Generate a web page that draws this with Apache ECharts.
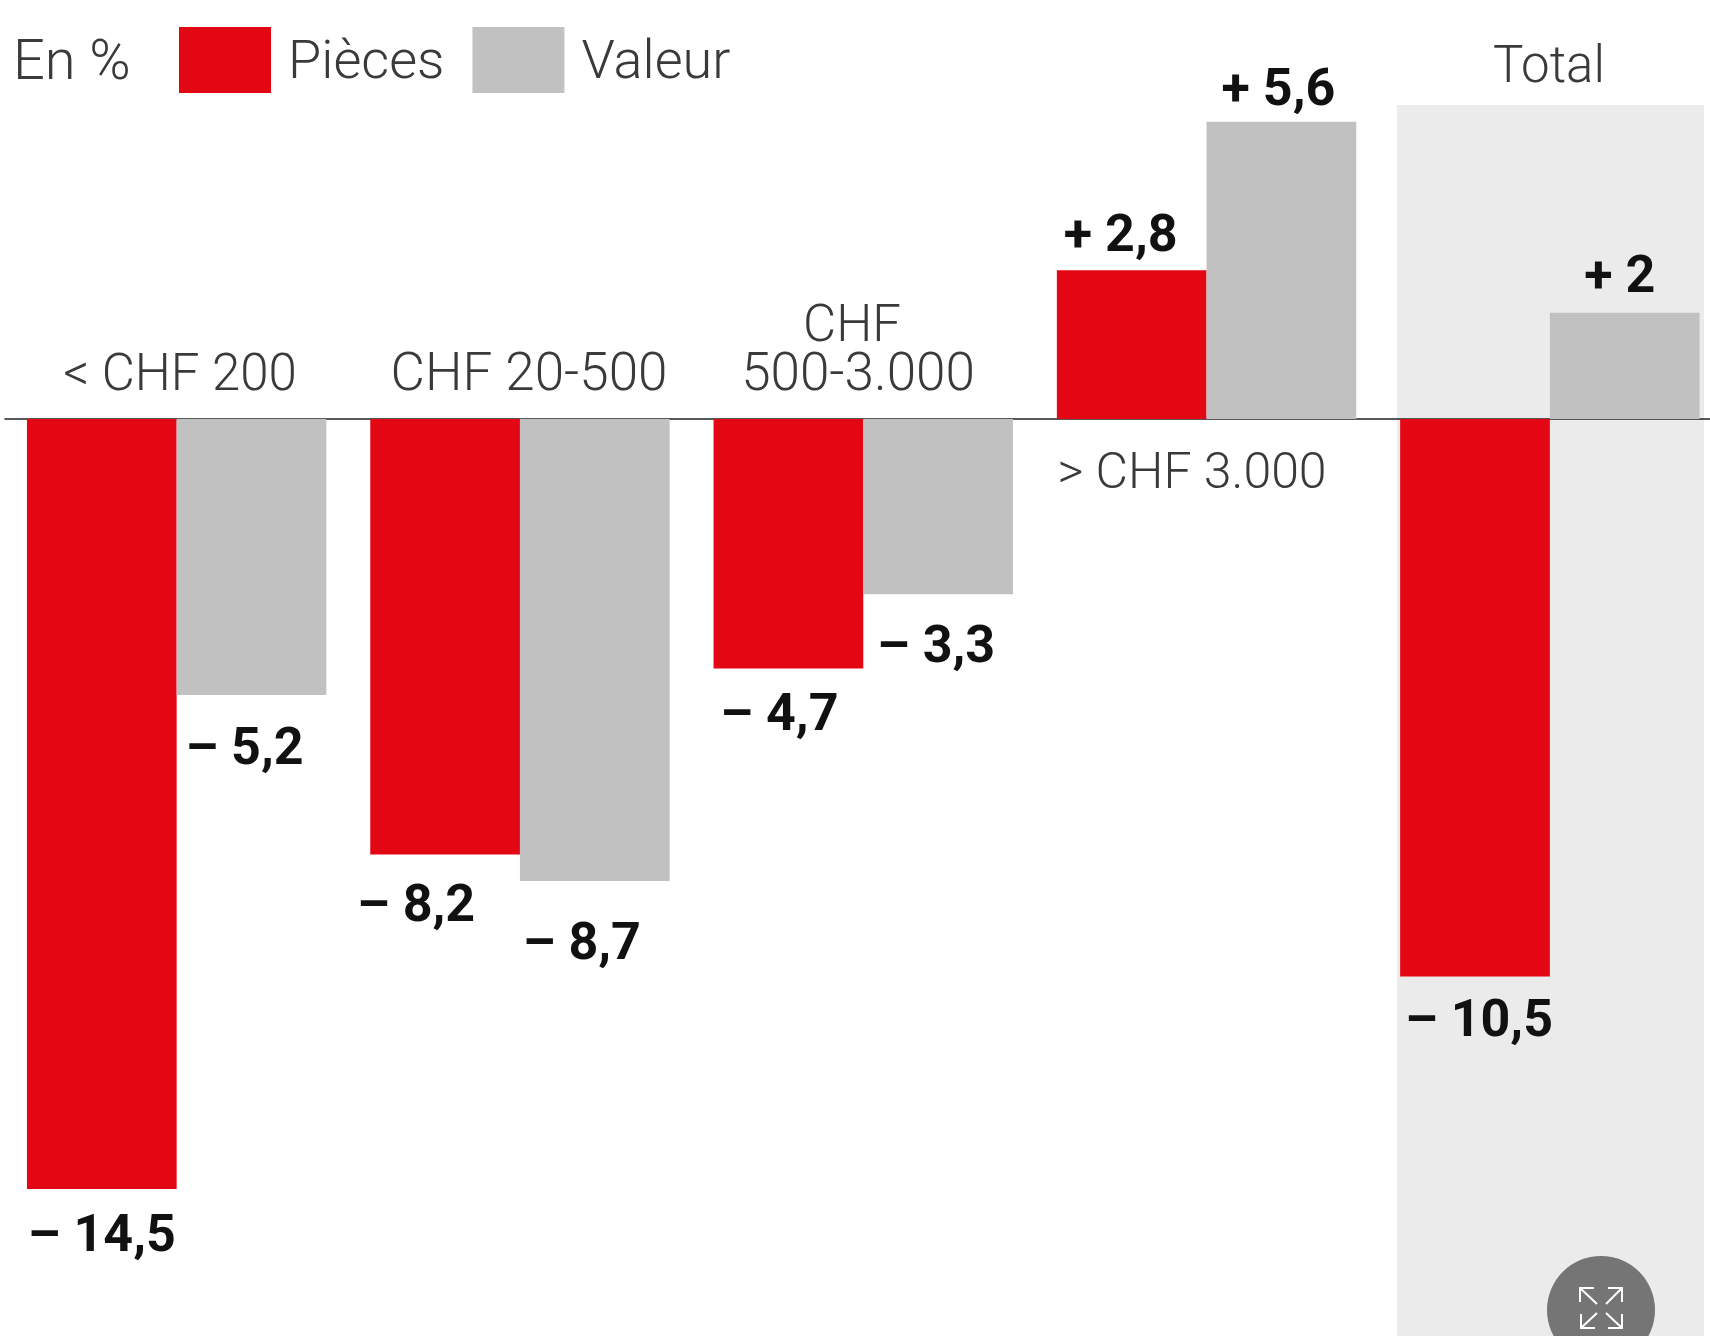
<!DOCTYPE html>
<html>
<head>
<meta charset="utf-8">
<script src="https://cdn.jsdelivr.net/npm/echarts@6/dist/echarts.min.js"></script>
<style>
  html, body { margin: 0; padding: 0; background: #fff; }
  #chart { width: 1710px; height: 1336px; }
</style>
</head>
<body>
<div id="chart"></div>
<script>
const categories = ['< CHF 200', 'CHF 20-500', 'CHF 500-3.000', '> CHF 3.000', 'Total']
const pieces = [-14.5, -8.2, -4.7, 2.8, -10.5]
const valeur = [-5.2, -8.7, -3.3, 5.6, 2]

const RED = '#e30613'
const GREY = '#c1c1c1'
const FONT = 'Roboto, "Liberation Sans", sans-serif'

// text under/over the bars is placed by hand, like in the original layout
const piecesOffset = [[0, 8], [-29, 13], [-9, 7], [-11, 2], [4, 5]]
const valeurOffset = [[-7, 15], [-13, 24], [-2, 14], [-3, 4], [-5, 0]]

function fmt(v) {
  const s = String(Math.abs(v)).replace('.', ',')
  return (v < 0 ? '– ' : '+ ') + s
}

function barData(values, offsets) {
  return values.map((v, i) => ({
    value: v,
    label: {
      position: v < 0 ? 'bottom' : 'top',
      distance: v < 0 ? 15 : 8,
      offset: offsets[i]
    }
  }))
}

function catLabel(text, x, y, size) {
  return {
    type: 'text',
    x: x,
    y: y,
    z: 5,
    style: {
      text: text,
      fill: '#3a3a3a',
      font: '300 ' + size + 'px ' + FONT,
      textAlign: 'center',
      textVerticalAlign: 'middle'
    }
  }
}

function arrow(points) {
  return {
    type: 'polyline',
    z: 11,
    shape: { points: points },
    style: { stroke: '#fff', lineWidth: 2, fill: null }
  }
}

const chart = echarts.init(document.getElementById('chart'), null, { renderer: 'canvas' })

chart.setOption({
  animation: false,
  backgroundColor: '#fff',
  grid: { left: 5, top: 47.3, width: 1716.5, height: 1274.4, outerBoundsMode: 'none' },
  legend: {
    left: 179,
    top: 27,
    padding: 0,
    itemWidth: 92,
    itemHeight: 66,
    itemGap: 28,
    icon: 'rect',
    selectedMode: false,
    formatter: '{a|{name}}',
    textStyle: {
      rich: {
        a: {
          fontFamily: FONT,
          fontWeight: 300,
          fontSize: 54,
          color: '#3a3a3a',
          padding: [8, 0, 0, 12]
        }
      }
    },
    data: ['Pièces', 'Valeur']
  },
  xAxis: {
    type: 'category',
    data: categories,
    axisLine: { onZero: true, lineStyle: { color: '#222', width: 1.5 } },
    axisTick: { show: false },
    axisLabel: { show: false }
  },
  yAxis: {
    type: 'value',
    min: -17,
    max: 7,
    show: false,
    splitLine: { show: false }
  },
  series: [
    {
      name: 'Pièces',
      type: 'bar',
      barWidth: 149.7,
      barGap: 0,
      itemStyle: { color: RED },
      data: barData(pieces, piecesOffset),
      label: {
        show: true,
        formatter: p => fmt(p.value),
        fontFamily: FONT,
        fontWeight: 700,
        fontSize: 52,
        color: '#111'
      }
    },
    {
      name: 'Valeur',
      type: 'bar',
      barWidth: 149.7,
      itemStyle: { color: GREY },
      data: barData(valeur, valeurOffset),
      label: {
        show: true,
        formatter: p => fmt(p.value),
        fontFamily: FONT,
        fontWeight: 700,
        fontSize: 52,
        color: '#111'
      }
    }
  ],
  graphic: [
    // Total background band
    { type: 'rect', z: -1, shape: { x: 1397, y: 105, width: 307, height: 1231 }, style: { fill: '#ebebeb' } },
    {
      type: 'text',
      x: 13,
      y: 65,
      z: 5,
      style: { text: 'En %', fill: '#3a3a3a', font: '300 56px ' + FONT, textVerticalAlign: 'middle' }
    },
    catLabel(categories[0], 180, 377, 51),
    catLabel(categories[1], 529, 377, 53),
    catLabel('CHF', 852, 328, 51),
    catLabel('500-3.000', 858, 377, 53),
    catLabel(categories[3], 1192, 475, 50),
    catLabel(categories[4], 1549, 69, 51),
    // expand button
    { type: 'circle', z: 10, shape: { cx: 1601, cy: 1310, r: 54 }, style: { fill: '#757575' } },
    arrow([[1580, 1302], [1580, 1288], [1594, 1288]]),
    arrow([[1580, 1288], [1597, 1304]]),
    arrow([[1608, 1288], [1622, 1288], [1622, 1302]]),
    arrow([[1622, 1288], [1606, 1304]]),
    arrow([[1581, 1314], [1581, 1328], [1595, 1328]]),
    arrow([[1581, 1328], [1597, 1313]]),
    arrow([[1622, 1314], [1622, 1328], [1608, 1328]]),
    arrow([[1622, 1328], [1606, 1313]])
  ]
})
</script>
</body>
</html>
